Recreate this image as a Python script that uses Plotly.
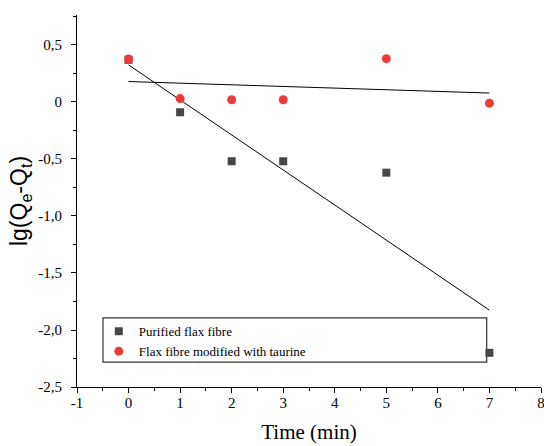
import numpy as np
import plotly.graph_objects as go

time_min = [0, 1, 2, 3, 5, 7]
purified = [0.37, -0.09, -0.52, -0.52, -0.62, -2.20]
taurine = [0.377, 0.03, 0.02, 0.02, 0.38, -0.01]

y_tickvals = [0.5, 0, -0.5, -1.0, -1.5, -2.0, -2.5]
y_ticktext = ["0,5", "0", "-0,5", "-1,0", "-1,5", "-2,0", "-2,5"]
x_tickvals = [-1, 0, 1, 2, 3, 4, 5, 6, 7, 8]
x_ticktext = ["-1", "0", "1", "2", "3", "4", "5", "6", "7", "8"]

font = "Liberation Serif, Times New Roman, serif"

fig = go.Figure()

# linear fits
for ys in (purified, taurine):
    k, b = np.polyfit(time_min, ys, 1)
    xs = [time_min[0], time_min[-1]]
    fig.add_trace(go.Scatter(x=xs, y=[k * x + b for x in xs], mode="lines",
                             line=dict(color="black", width=1), showlegend=False,
                             hoverinfo="skip"))

fig.add_trace(go.Scatter(x=time_min, y=purified, mode="markers", name="Purified flax fibre",
                         marker=dict(symbol="square", size=8, color="#474747")))
fig.add_trace(go.Scatter(x=time_min, y=taurine, mode="markers", name="Flax fibre modified with taurine",
                         marker=dict(symbol="circle", size=9, color="#ef3a3a")))

fig.add_shape(type="rect", xref="paper", yref="paper", x0=0.056, x1=0.883, y0=0.067, y1=0.186,
              line=dict(color="#333333", width=1.2), fillcolor="rgba(0,0,0,0)", layer="below")

fig.update_layout(
    width=544, height=446,
    margin=dict(l=77, r=3, t=15, b=59),
    paper_bgcolor="white", plot_bgcolor="white",
    font=dict(family=font, color="black", size=13),
    legend=dict(x=0.047, y=0.19, xanchor="left", yanchor="top", bgcolor="rgba(0,0,0,0)",
                font=dict(family=font, size=13, color="black"), tracegroupgap=0,
                itemwidth=30),
    xaxis=dict(range=[-1, 8], tickvals=x_tickvals, ticktext=x_ticktext, showline=True,
               linecolor="black", linewidth=1, ticklabeloverflow="allow",
               ticks="outside", ticklen=5, tickcolor="black", showgrid=False, zeroline=False,
               minor=dict(ticks="outside", dtick=0.5, ticklen=3, tickcolor="black"),
               tickfont=dict(size=15), automargin=False, ticklabelstandoff=-3,
               title=dict(text="Time (min)", font=dict(size=21), standoff=14)),
    yaxis=dict(range=[-2.5, 0.763], tickvals=y_tickvals, ticktext=y_ticktext, showline=True,
               linecolor="black", linewidth=1, ticks="outside", ticklen=5, tickcolor="black",
               showgrid=False, zeroline=False, automargin=False, ticklabelstandoff=6,
               minor=dict(ticks="outside", dtick=0.25, ticklen=3, tickcolor="black"),
               tickfont=dict(size=15),
               title=dict(text="lg(Q<sub>e</sub>-Q<sub>t</sub>)", standoff=4,
                          font=dict(size=23, family="Liberation Sans, Arial, sans-serif"))),
)

fig.write_html("out.html", config={"displayModeBar": False},
               post_script="document.body.style.margin='0';document.body.style.overflow='hidden';")
